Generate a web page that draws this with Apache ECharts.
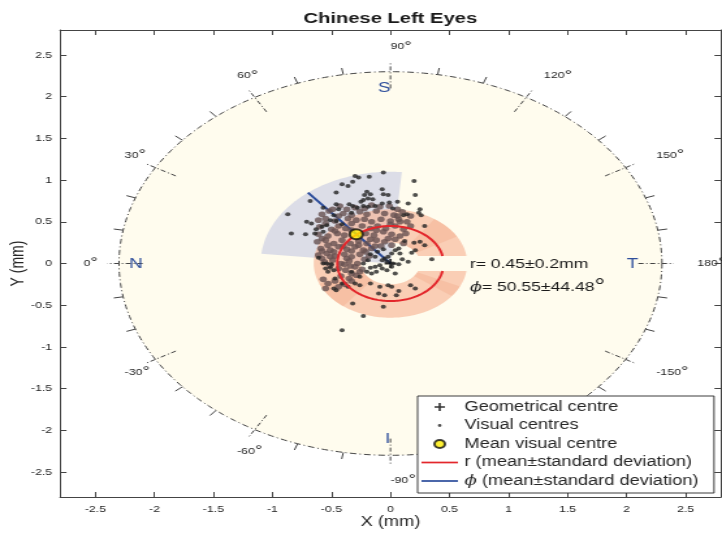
<!DOCTYPE html>
<html>
<head>
<meta charset="utf-8">
<script src="https://cdn.jsdelivr.net/npm/echarts@6/dist/echarts.min.js"></script>
<style>
  html, body { margin: 0; padding: 0; background: #ffffff; overflow: hidden; }
  /* the figure is laid out narrow and widened, which gives the wide glyphs and oval markers */
  #chart { width: 555px; height: 534px; transform: scaleX(1.3009); transform-origin: 0 0; }
</style>
</head>
<body>
<div id="chart"></div>
<script>
const FONT = 'Liberation Sans';
const INK = '#262626';

// cartesian axes (mm)
const axisRange = [-2.8, 2.8];
const axisTickValues = [-2.5, -2, -1.5, -1, -0.5, 0, 0.5, 1, 1.5, 2, 2.5];

// polar guide: phi is measured from the nasal side (left), counter-clockwise through superior
const fieldRadius = 2.3;
const majorAngles = [0, 30, 60, 90, 120, 150, 180, -150, -120, -90, -60, -30];
const minorAngles = [10, 20, 40, 50, 70, 80, 100, 110, 130, 140, 160, 170,
                     -170, -160, -140, -130, -110, -100, -80, -70, -50, -40, -20, -10];
const compassNames = ['N', 'S', 'T', 'I'];
const compassAngles = [0, 90, 180, -90];

// summary statistics
const rMean = 0.45, rSd = 0.2;
const phiMean = 50.55, phiSd = 44.48;
const sectorRadius = 1.1;
const annulusShadeRanges = [[125, 150], [-155, -143], [-52, -22]];

// centres (mm)
const geometricalCentre = [[0, 0]];
const meanVisualCentre = [[-0.29, 0.35]];
const visualCentres = [
  [-0.30,1.05],[-0.27,1.03],[-0.41,0.95],[-0.36,0.93],[-0.32,0.98],[-0.46,0.85],[-0.68,0.75],[-0.87,0.59],
  [-0.46,0.71],[-0.44,0.65],[-0.57,0.67],[-0.35,0.71],[-0.32,0.69],[-0.28,0.67],[-0.33,0.61],[-0.25,0.74],
  [-0.23,0.69],[-0.48,0.58],[-0.51,0.52],[-0.71,0.50],[-0.67,0.48],[-0.63,0.41],[-0.58,0.44],[-0.54,0.46],
  [-0.57,0.38],[-0.84,0.36],[-0.72,0.35],[-0.46,0.51],[-0.41,0.47],[-0.06,1.09],[-0.18,1.04],[0.20,0.99],
  [-0.07,0.89],[-0.06,0.83],[-0.02,0.82],[-0.20,0.86],[-0.17,0.83],[-0.22,0.82],[0.21,0.82],[-0.23,0.76],
  [-0.19,0.78],[-0.15,0.77],[-0.07,0.72],[-0.01,0.73],[0.06,0.74],[0.15,0.72],[-0.13,0.69],[-0.19,0.68],
  [0.02,0.66],[0.25,0.65],[0.24,0.61],[0.26,0.58],[0.11,0.58],[0.14,0.59],[0.29,0.45],
  [-0.64,0.36],[-0.61,0.07],[-0.57,0.00],[-0.54,0.00],[-0.50,-0.01],[-0.55,-0.06],[-0.51,-0.05],[-0.48,-0.08],
  [-0.53,-0.10],[-0.47,-0.18],[-0.41,-0.24],[-0.48,-0.30],[-0.46,-0.32],[-0.33,-0.10],[-0.30,-0.24],[-0.36,-0.28],
  [-0.26,-0.26],[-0.32,-0.48],[-0.23,-0.63],[-0.41,-0.80],
  [0.35,0.05],[0.21,0.16],[0.29,0.22],[0.25,0.26],[0.20,0.25],[0.12,0.27],[0.07,0.18],[0.04,0.16],
  [0.08,0.12],[0.01,0.12],[-0.02,0.08],[-0.05,0.06],[-0.07,0.04],[-0.03,0.02],[0.02,0.00],[0.07,-0.01],
  [0.01,-0.04],[-0.09,-0.02],[-0.13,-0.04],[-0.17,-0.05],[-0.07,-0.06],[-0.03,-0.08],[-0.12,-0.10],[-0.16,-0.12],
  [-0.20,-0.10],[0.04,-0.12],[-0.26,-0.16],[0.18,0.13],[-0.17,-0.24],[-0.09,-0.28],[-0.02,-0.26],[0.01,-0.28],
  [0.07,-0.33],[0.17,-0.26],[0.21,-0.30],[-0.10,-0.36],[-0.05,-0.38],[0.05,-0.38],[-0.06,-0.52],
  [-0.13,0.08],[-0.17,0.11],[-0.19,0.04],[-0.23,0.00],[-0.11,0.14],[-0.06,0.17],[0.10,0.05],[0.15,0.02]
];
// the crowded core around the mean centre
const visualCentresCore = [
  [-0.43,0.69],[-0.37,0.65],[-0.16,0.70],[-0.09,0.68],[-0.01,0.69],[0.06,0.65],
  [-0.58,0.59],[-0.52,0.63],[-0.40,0.60],[-0.26,0.62],[-0.20,0.59],[-0.12,0.63],[-0.05,0.60],[0.03,0.58],[0.10,0.62],[0.17,0.57],
  [-0.61,0.52],[-0.55,0.54],[-0.47,0.51],[-0.36,0.54],[-0.29,0.52],[-0.22,0.53],[-0.16,0.50],[-0.08,0.53],[0.00,0.51],[0.07,0.53],[0.14,0.50],
  [-0.60,0.44],[-0.50,0.41],[-0.44,0.45],[-0.38,0.42],[-0.24,0.45],[-0.17,0.42],[-0.11,0.45],[-0.04,0.42],[0.04,0.45],[0.11,0.41],[0.17,0.45],
  [-0.61,0.35],[-0.53,0.33],[-0.45,0.36],[-0.39,0.34],[-0.21,0.36],[-0.14,0.34],[-0.06,0.38],[0.01,0.35],[0.08,0.33],
  [-0.62,0.26],[-0.55,0.28],[-0.48,0.24],[-0.41,0.28],[-0.34,0.24],[-0.27,0.27],[-0.20,0.24],[-0.12,0.28],[-0.05,0.26],[0.04,0.29],[0.11,0.24],
  [-0.59,0.18],[-0.51,0.16],[-0.44,0.20],[-0.37,0.17],[-0.30,0.20],[-0.23,0.16],[-0.16,0.18],[-0.08,0.21],
  [-0.61,0.10],[-0.54,0.12],[-0.47,0.09],[-0.39,0.11],[-0.33,0.08],[-0.26,0.11],[-0.18,0.09],
  [-0.56,0.02],[-0.49,0.04],[-0.42,0.00],[-0.35,0.03],[-0.28,0.00],
  [-0.44,-0.06],[-0.38,-0.08],[-0.30,-0.04],[-0.24,-0.07],
  [-0.42,-0.15],[-0.35,-0.18],[-0.29,-0.14],[-0.57,-0.19],[-0.53,-0.24],
  [-0.39,-0.25],[-0.44,-0.28],[-0.55,-0.30],
  [-0.49,0.65],[-0.30,0.67],[-0.22,0.66],[-0.44,0.57],[-0.33,0.58],[0.06,0.57],
  [-0.55,0.48],[-0.33,0.48],[0.00,0.47],[0.08,0.50],[-0.47,0.39],[-0.33,0.40],[-0.12,0.40],[0.13,0.36],
  [-0.58,0.30],[-0.17,0.29],[-0.02,0.30],[-0.53,0.22],[-0.40,0.21],[-0.27,0.22],[-0.13,0.21],[0.01,0.22],
  [-0.58,0.15],[-0.48,0.14],[-0.33,0.15],[-0.21,0.14],[-0.58,0.06],[-0.51,0.08],[-0.37,0.06],[-0.22,0.05],
  [-0.51,-0.02],[-0.34,-0.03],[-0.39,-0.01],[-0.33,-0.12],[-0.26,-0.10],[-0.47,-0.21],[-0.33,-0.21]
];

const legendNames = ['Geometrical centre', 'Visual centres', 'Mean visual centre',
                     'r (mean\u00b1standard deviation)', '\u03d5 (mean\u00b1standard deviation)'];

const RAD = Math.PI / 180;
function polarToXY(r, phi) { return [-r * Math.cos(phi * RAD), r * Math.sin(phi * RAD)]; }
function arc(r, from, to, steps) {
  const pts = [];
  for (let i = 0; i <= steps; i++) pts.push(polarToXY(r, from + (to - from) * i / steps));
  return pts;
}
function px(api, pts) { return pts.map(p => api.coord(p)); }
function seg(api, a, b, style) {
  const p = api.coord(a), q = api.coord(b);
  return { type: 'line', shape: { x1: p[0], y1: p[1], x2: q[0], y2: q[1] }, style };
}
// the ring and annulus open on the temporal side in a band of this half-height (mm)
const gapHalf = 0.09;
function gapAngle(r) { return 180 - Math.asin(gapHalf / r) / RAD; }

function degreeRich(size, color) {
  return {
    n: { fontSize: size, fontFamily: FONT, fill: color },
    p: { fontSize: size, fontFamily: 'DejaVu Serif', fontStyle: 'italic', fill: color },
    d: { fontSize: size * 1.5, fontFamily: FONT, fill: color }
  };
}

function drawField(api) {
  return {
    type: 'polygon', shape: { points: px(api, arc(fieldRadius, -180, 180, 360)) },
    style: { fill: '#fffcee', stroke: '#444444', lineWidth: 1, lineDash: [5, 2.5, 1, 2.5] }
  };
}
function drawAngleScale(api) {
  const kids = [];
  const tickStyle = { stroke: '#444444', lineWidth: 1, lineDash: [4, 2, 1, 2] };
  majorAngles.forEach(a => {
    kids.push(seg(api, polarToXY(2.1, a), polarToXY(2.4, a), tickStyle));
    const lp = api.coord(polarToXY(2.6, a));
    kids.push({ type: 'text', x: lp[0], y: lp[1],
      style: { text: '{n|' + a + '}{d|\u00b0}', align: 'left', verticalAlign: 'middle', rich: degreeRich(9.5, INK) } });
  });
  minorAngles.forEach(a => kids.push(seg(api, polarToXY(2.3, a), polarToXY(2.38, a), { stroke: '#444444', lineWidth: 1 })));
  compassNames.forEach((n, i) => {
    const lp = api.coord(polarToXY(2.1, compassAngles[i]));
    kids.push({ type: 'text', x: lp[0], y: lp[1],
      style: { text: n, fill: '#2f4f9c', fontSize: 14.5, fontFamily: FONT, align: 'right', verticalAlign: 'middle' } });
  });
  return { type: 'group', children: kids };
}
function drawSector(api) {
  const pts = [[0, 0]].concat(arc(sectorRadius, phiMean - phiSd, phiMean + phiSd, 90));
  return { type: 'polygon', shape: { points: px(api, pts) }, style: { fill: '#dcdde7' } };
}
function annulusPath(rIn, rOut, from, to) {
  return arc(rOut, from, to, 120).concat(arc(rIn, to, from, 60));
}
function drawAnnulus(api) {
  const r0 = rMean - rSd, r1 = rMean + rSd;
  const outer = arc(r1, -gapAngle(r1), gapAngle(r1), 240);
  const inner = arc(r0, gapAngle(r0), -gapAngle(r0), 120);
  const kids = [{ type: 'polygon', shape: { points: px(api, outer.concat(inner)) },
    style: { fill: 'rgba(247,178,146,0.62)' } }];
  annulusShadeRanges.forEach(rg => kids.push({ type: 'polygon',
    shape: { points: px(api, annulusPath(r0, r1, rg[0], rg[1])) },
    style: { fill: 'rgba(236,140,100,0.2)' } }));
  return { type: 'group', children: kids };
}
function drawPhiLine(api) {
  return seg(api, [0, 0], polarToXY(sectorRadius, phiMean), { stroke: '#2b4c9b', lineWidth: 2 });
}
function drawRing(api) {
  return { type: 'polyline', shape: { points: px(api, arc(rMean, -gapAngle(rMean), gapAngle(rMean), 200)) },
    style: { stroke: '#e3262b', lineWidth: 2, fill: null } };
}
function drawNotes(api) {
  const a = api.coord([0.673, -0.01]), b = api.coord([0.673, -0.284]);
  return { type: 'group', children: [
    { type: 'text', x: a[0], y: a[1], style: { text: 'r= ' + rMean + '\u00b1' + rSd + 'mm',
      fill: '#1a1a1a', fontSize: 13.5, fontFamily: FONT, align: 'left', verticalAlign: 'middle' } },
    { type: 'text', x: b[0], y: b[1], style: { text: '{p|\u03d5}{n|= ' + phiMean + '\u00b1' + phiSd + '}{d|\u00b0}',
      align: 'left', verticalAlign: 'middle', rich: degreeRich(13.5, '#1a1a1a') } }
  ] };
}
function layer(name, z, draw) {
  return { type: 'custom', name, z, silent: true, coordinateSystem: 'cartesian2d', clip: false,
    data: [[0, 0]], renderItem: (params, api) => draw(api) };
}

const frameLine = { show: true, onZero: false, lineStyle: { color: '#444444', width: 1 } };
const frameTick = { show: true, inside: true, length: 5, customValues: axisTickValues, lineStyle: { color: '#444444', width: 1 } };
const tickLabel = { customValues: axisTickValues, fontSize: 9.5, color: INK, fontFamily: FONT };

const option = {
  animation: false,
  backgroundColor: '#ffffff',
  title: {
    text: 'Chinese Left Eyes', left: 295, top: 6, textAlign: 'center',
    textStyle: { fontSize: 15.5, fontWeight: 'bold', color: '#1a1a1a', fontFamily: FONT }
  },
  grid: { left: 46.1, top: 30, width: 508.1, height: 467, containLabel: false, outerBoundsMode: 'none' },
  xAxis: [
    { type: 'value', min: axisRange[0], max: axisRange[1], position: 'bottom',
      axisLine: frameLine, axisTick: frameTick, splitLine: { show: false },
      axisLabel: Object.assign({ margin: 7 }, tickLabel),
      name: 'X (mm)', nameLocation: 'middle', nameGap: 18, nameMoveOverlap: false,
      nameTextStyle: { fontSize: 14, color: INK, fontFamily: FONT } },
    { type: 'value', min: axisRange[0], max: axisRange[1], position: 'top',
      axisLine: frameLine, axisTick: frameTick, splitLine: { show: false }, axisLabel: { show: false } }
  ],
  yAxis: [
    { type: 'value', min: axisRange[0], max: axisRange[1], position: 'left',
      axisLine: frameLine, axisTick: frameTick, splitLine: { show: false },
      axisLabel: Object.assign({ margin: 6 }, tickLabel),
      name: 'Y (mm)', nameLocation: 'middle', nameGap: 25, nameMoveOverlap: false,
      nameTextStyle: { fontSize: 14, color: INK, fontFamily: FONT } },
    { type: 'value', min: axisRange[0], max: axisRange[1], position: 'right',
      axisLine: frameLine, axisTick: frameTick, splitLine: { show: false }, axisLabel: { show: false } }
  ],
  legend: {
    orient: 'vertical', left: 321, top: 396,
    padding: [4, 12, 5, 3], itemGap: 4.5, itemWidth: 28, itemHeight: 8, itemTextGap: 5,
    backgroundColor: '#ffffff', borderColor: '#262626', borderWidth: 0.9, borderRadius: 0,
    selectedMode: false,
    textStyle: { fontSize: 14, color: INK, fontFamily: FONT,
      rich: { p: { fontSize: 14, color: INK, fontFamily: 'DejaVu Serif', fontStyle: 'italic' } } },
    formatter: n => n.replace('\u03d5', '{p|\u03d5}'),
    data: [
      { name: legendNames[0], icon: 'path://M3.2,0H4.8V3.2H8V4.8H4.8V8H3.2V4.8H0V3.2H3.2Z' },
      { name: legendNames[1], icon: 'path://M0,0h0.01v0.01h-0.01z M8,8h0.01v0.01h-0.01z M2.6,4a1.4,1.4 0 1,0 2.8,0a1.4,1.4 0 1,0 -2.8,0z' },
      { name: legendNames[2], icon: 'circle' },
      { name: legendNames[3], icon: 'path://M0,0H28V1.7H0Z', itemStyle: { borderWidth: 0 } },
      { name: legendNames[4], icon: 'path://M0,0H28V1.7H0Z', itemStyle: { borderWidth: 0 } }
    ]
  },
  series: [
    layer('', 1, drawField),
    layer('', 1, drawAngleScale),
    layer('', 1, drawSector),
    layer('', 1, drawAnnulus),
    Object.assign(layer(legendNames[4], 2, drawPhiLine), { itemStyle: { color: '#2b4c9b' } }),
    { type: 'scatter', name: legendNames[1], z: 4, data: visualCentres, symbol: 'circle', symbolSize: 4,
      itemStyle: { color: '#242424' }, silent: true },
    { type: 'scatter', name: legendNames[1], z: 3, data: visualCentresCore, symbol: 'circle', symbolSize: 5.6,
      itemStyle: { color: '#675151' }, silent: true },
    { type: 'scatter', name: legendNames[0], z: 3, data: geometricalCentre,
      symbol: 'path://M3.2,0H4.8V3.2H8V4.8H4.8V8H3.2V4.8H0V3.2H3.2Z', symbolSize: 9,
      itemStyle: { color: '#000000' }, silent: true },
    Object.assign(layer(legendNames[3], 5, drawRing), { itemStyle: { color: '#e3262b' } }),
    { type: 'scatter', name: legendNames[2], z: 6, data: meanVisualCentre, symbol: 'circle', symbolSize: 10,
      itemStyle: { color: '#ffee00', borderColor: '#111111', borderWidth: 2 }, silent: true },
    layer('', 6, drawNotes)
  ]
};

const chart = echarts.init(document.getElementById('chart'));
chart.setOption(option);
</script>
</body>
</html>
